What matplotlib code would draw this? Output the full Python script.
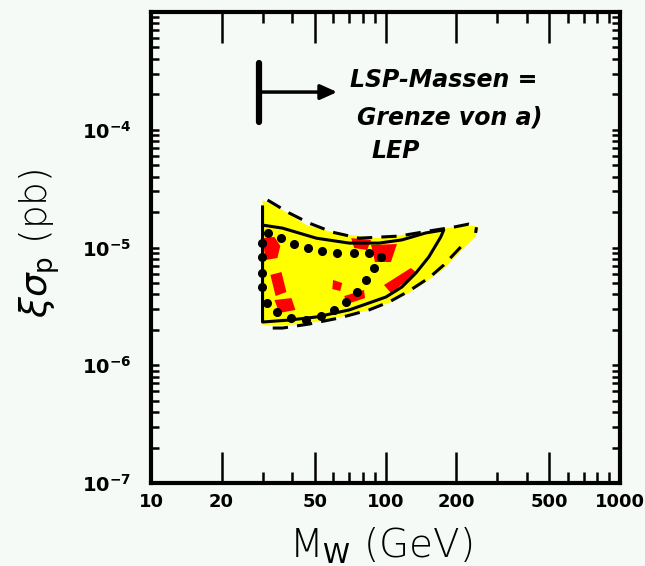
import matplotlib
matplotlib.use('Agg')
import matplotlib.pyplot as plt
from matplotlib.ticker import FixedLocator, NullFormatter

# allowed region (yellow), M_W in GeV, sigma_p in pb
yel_m = [29.9, 36.4, 46.0, 59.3, 70.0, 93.8, 117.5, 153, 180.7, 226, 250, 242, 211, 181,
         153, 126, 103.5, 85.1, 70.0, 50.7, 38.9, 29.9]
yel_s = [2.53e-5, 2.08e-5, 1.55e-5, 1.35e-5, 1.28e-5, 1.20e-5, 1.28e-5, 1.35e-5, 1.46e-5,
         1.55e-5, 1.49e-5, 1.23e-5, 9.52e-6, 6.83e-6, 5.30e-6, 4.11e-6, 3.38e-6, 2.95e-6,
         2.67e-6, 2.33e-6, 2.20e-6, 2.20e-6]

# red patches
red_m = [[29.9, 33.6, 35.6, 34.6, 30.8],
         [32.3, 36.0, 37.8, 34.0],
         [33.6, 39.7, 41.3, 35.3],
         [59.8, 65.4, 64.1, 59.3],
         [86.8, 111.9, 105.5, 90.2],
         [98.5, 128.3, 136.1, 105.5],
         [66.7, 81.0, 81.8, 68.6],
         [71.4, 86.8, 83.5, 73.5]]
red_s = [[1.20e-5, 1.23e-5, 1.03e-5, 8.14e-6, 7.83e-6],
         [5.84e-6, 6.19e-6, 4.19e-6, 3.87e-6],
         [3.58e-6, 3.72e-6, 2.95e-6, 2.78e-6],
         [5.30e-6, 4.99e-6, 4.27e-6, 4.44e-6],
         [1.05e-5, 1.07e-5, 7.53e-6, 7.53e-6],
         [4.80e-6, 6.70e-6, 6.07e-6, 4.11e-6],
         [3.87e-6, 4.36e-6, 3.72e-6, 3.31e-6],
         [1.20e-5, 1.16e-5, 9.52e-6, 9.90e-6]]

# solid contour
sol_m = [29.9, 36.4, 50.7, 70.0, 93.8, 117.5, 148.6, 177.2, 172.1, 153, 134.8, 117.5,
         100.5, 85.1, 70, 50.7, 38.9, 29.9, 29.9]
sol_s = [1.55e-5, 1.46e-5, 1.20e-5, 1.09e-5, 1.09e-5, 1.16e-5, 1.33e-5, 1.41e-5, 1.23e-5,
         8.31e-6, 6.07e-6, 4.62e-6, 3.80e-6, 3.38e-6, 2.95e-6, 2.57e-6, 2.42e-6, 2.33e-6,
         2.21e-5]

# dashed contour (upper and lower branch)
dash_top_m = [31.4, 38.9, 47.3, 59.3, 77.2, 114.1, 153, 195.4, 226.2, 244.7, 242.3]
dash_top_s = [2.53e-5, 1.96e-5, 1.61e-5, 1.35e-5, 1.20e-5, 1.25e-5, 1.38e-5, 1.49e-5,
              1.58e-5, 1.52e-5, 1.33e-5]
dash_low_m = [209.3, 177.2, 153, 125.9, 103.5, 85.1, 63.5, 47.3, 36.4, 30.5]
dash_low_s = [1.01e-5, 7.10e-6, 5.51e-6, 4.27e-6, 3.44e-6, 2.95e-6, 2.52e-6, 2.24e-6,
              2.07e-6, 2.07e-6]

# dotted contour
dot_m = [31.4, 36.0, 40.9, 46.9, 53.7, 62.2, 73.5, 85.1, 95.7, 89.4, 82.7, 75.7, 68.0,
         60.4, 53.2, 46.0, 39.7, 34.6, 31.1, 29.6, 29.6, 29.6, 29.6]
dot_s = [1.33e-5, 1.20e-5, 1.07e-5, 9.90e-6, 9.34e-6, 8.98e-6, 8.98e-6, 8.98e-6, 8.31e-6,
         6.70e-6, 5.30e-6, 4.19e-6, 3.44e-6, 2.95e-6, 2.62e-6, 2.42e-6, 2.52e-6, 2.83e-6,
         3.38e-6, 4.62e-6, 6.07e-6, 8.31e-6, 1.09e-5]

# LEP limit marker
lep_m = 29.0
lep_bar = [1.16e-4, 3.69e-4]
lep_arrow_s = 2.09e-4
lep_arrow_end = 62.2

xmajor = [10, 20, 50, 100, 200, 500, 1000]
xminor = [30, 40, 60, 70, 80, 90, 300, 400, 600, 700, 800, 900]
yticks = [1e-7, 1e-6, 1e-5, 1e-4]
ylabels = [r'$\mathbf{10^{-7}}$', r'$\mathbf{10^{-6}}$', r'$\mathbf{10^{-5}}$', r'$\mathbf{10^{-4}}$']

bg = '#f6faf6'
plt.rcParams['mathtext.fontset'] = 'dejavusans'

fig = plt.figure(figsize=(6.45, 5.66), dpi=100, facecolor=bg)
ax = fig.add_axes([151/645, 1-483/566, 469/645, 471/566], facecolor=bg)
ax.set_xscale('log')
ax.set_yscale('log')
ax.set_xlim(10, 1000)
ax.set_ylim(1e-7, 1e-3)

ax.fill(yel_m, yel_s, color='#ffff00', lw=0, zorder=1)
for rm, rs in zip(red_m, red_s):
    ax.fill(rm, rs, color='#ff0000', lw=0, zorder=2)

ax.plot(sol_m, sol_s, color='black', lw=2.2, zorder=3)
ax.plot(dash_top_m, dash_top_s, color='black', lw=2.2, ls=(0, (5, 3)), zorder=3)
ax.plot(dash_low_m, dash_low_s, color='black', lw=2.2, ls=(0, (5, 3)), zorder=3)
ax.plot(dot_m, dot_s, 'o', color='black', ms=5.5, zorder=4)

ax.plot([lep_m, lep_m], lep_bar, color='black', lw=4.5, solid_capstyle='round', zorder=4)
ax.annotate('', xy=(lep_arrow_end, lep_arrow_s), xytext=(lep_m, lep_arrow_s),
            arrowprops=dict(arrowstyle='-|>,head_length=1.0,head_width=0.45',
                            color='black', lw=2.5, shrinkA=0, shrinkB=0))

hand = dict(fontsize=17, fontweight='bold', style='italic', color='black',
            family='DejaVu Sans', transform=ax.transAxes, va='center', ha='left')
ax.text(0.425, 0.855, 'LSP-Massen =', **hand)
ax.text(0.44, 0.775, 'Grenze von a)', **hand)
ax.text(0.47, 0.705, 'LEP', **hand)

ax.xaxis.set_major_locator(FixedLocator(xmajor))
ax.xaxis.set_minor_locator(FixedLocator(xminor))
ax.set_xticklabels([str(v) for v in xmajor])
ax.xaxis.set_minor_formatter(NullFormatter())
ax.set_yticks(yticks)
ax.set_yticklabels(ylabels)

ax.tick_params(axis='x', which='major', direction='in', top=True, length=22, width=1.8,
               labelsize=13, pad=7)
ax.tick_params(axis='x', which='minor', direction='in', top=True, length=8, width=1.8)
ax.tick_params(axis='y', which='both', direction='in', right=True, length=6, width=1.8,
               labelsize=14, pad=14)
for lab in ax.get_xticklabels():
    lab.set_fontweight('bold')
for s in ax.spines.values():
    s.set_linewidth(3)

ax.set_xlabel(r'M$_{\mathrm{W}}$ (GeV)', fontsize=28, fontweight='light')
ax.set_ylabel(r'$\xi\sigma_{\mathrm{p}}$ (pb)', fontsize=27, fontweight='light')
ax.xaxis.set_label_coords(0.49, -0.09)
ax.yaxis.set_label_coords(-0.19, 0.51)

fig.savefig('out.png', dpi=100, facecolor=bg)
